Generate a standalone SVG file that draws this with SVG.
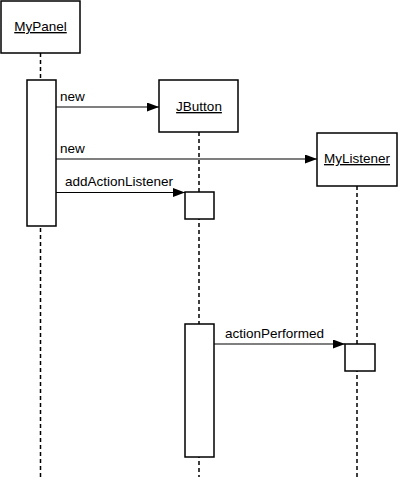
<svg xmlns="http://www.w3.org/2000/svg" width="400" height="481" viewBox="0 0 400 481">
<style>
.box{fill:#fff;stroke:#000;stroke-width:1.5}
.life{stroke:#000;stroke-width:1.5;stroke-dasharray:4 3;fill:none}
.msg{stroke:#000;stroke-width:1.2;fill:none}
text{font-family:"Liberation Sans",Arial,sans-serif;font-size:13.5px;fill:#000}
.u{text-decoration:underline}
</style>
<defs>
<marker id="ah" markerWidth="12" markerHeight="9" refX="12" refY="4.5" orient="auto" markerUnits="userSpaceOnUse">
<path d="M0,0 L12,4.5 L0,9 Z" fill="#000"/>
</marker>
</defs>
<g id="lifelines">
<line class="life" x1="40.5" y1="53" x2="40.5" y2="477"/>
<line class="life" x1="199" y1="132" x2="199" y2="477"/>
<line class="life" x1="357" y1="186" x2="357" y2="477"/>
</g>
<g id="MyPanel">
<rect class="box" x="1" y="1" width="79" height="52"/>
<text class="u" x="40.5" y="31" text-anchor="middle">MyPanel</text>
<rect class="box" x="27" y="80" width="29" height="146"/>
</g>
<g id="JButton">
<rect class="box" x="159" y="80" width="79" height="52"/>
<text class="u" x="199" y="111" text-anchor="middle">JButton</text>
<rect class="box" x="185" y="192" width="29" height="27"/>
<rect class="box" x="185" y="324" width="29" height="133"/>
</g>
<g id="MyListener">
<rect class="box" x="317" y="133" width="80" height="53"/>
<text class="u" x="357" y="163" text-anchor="middle">MyListener</text>
<rect class="box" x="345" y="344" width="30" height="27"/>
</g>
<g id="connectors">
<line class="msg" x1="56" y1="107" x2="159" y2="107" marker-end="url(#ah)"/>
<text x="60" y="101">new</text>
<line class="msg" x1="56" y1="159" x2="317" y2="159" marker-end="url(#ah)"/>
<text x="60" y="153">new</text>
<line class="msg" x1="56" y1="192.5" x2="185" y2="192.5" marker-end="url(#ah)"/>
<text x="65" y="186">addActionListener</text>
<line class="msg" x1="214" y1="344" x2="345" y2="344" marker-end="url(#ah)"/>
<text x="225" y="338">actionPerformed</text>
</g>
</svg>
